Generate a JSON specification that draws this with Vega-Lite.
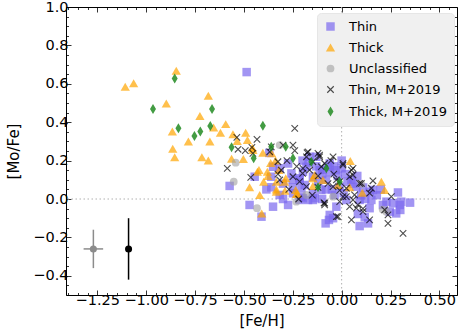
{
  "$schema": "https://vega.github.io/schema/vega-lite/v6.json",
  "autosize": {"type": "none"},
  "padding": {"left": 66, "top": 7, "right": 3, "bottom": 40},
  "width": 391,
  "height": 288,
  "config": {
    "font": "DejaVu Sans",
    "view": {"stroke": "#000000", "strokeWidth": 1},
    "axis": {"grid": false, "domain": false, "labelFont": "DejaVu Sans", "labelFontSize": 14.5, "labelColor": "#000000", "titleFont": "DejaVu Sans", "titleFontSize": 15, "titleFontWeight": "normal", "titleColor": "#000000", "tickColor": "#000000", "tickWidth": 0.8, "labelOverlap": false, "labelFlush": false},
    "legend": {"labelFont": "DejaVu Sans", "labelFontSize": 13, "labelColor": "#000000"}
  },
  "datasets": {
    "pts": [
      {"fe": -0.486, "mo": 0.661, "cls": "Thin"},
      {"fe": -0.573, "mo": 0.068, "cls": "Thin"},
      {"fe": -0.351, "mo": 0.168, "cls": "Thin"},
      {"fe": -0.36, "mo": 0.116, "cls": "Thin"},
      {"fe": -0.317, "mo": 0.16, "cls": "Thin"},
      {"fe": -0.385, "mo": 0.05, "cls": "Thin"},
      {"fe": -0.36, "mo": 0.061, "cls": "Thin"},
      {"fe": -0.317, "mo": 0.021, "cls": "Thin"},
      {"fe": -0.471, "mo": -0.031, "cls": "Thin"},
      {"fe": -0.351, "mo": -0.04, "cls": "Thin"},
      {"fe": -0.41, "mo": -0.092, "cls": "Thin"},
      {"fe": -0.274, "mo": -0.031, "cls": "Thin"},
      {"fe": -0.215, "mo": -0.005, "cls": "Thin"},
      {"fe": -0.172, "mo": -0.005, "cls": "Thin"},
      {"fe": -0.147, "mo": 0.03, "cls": "Thin"},
      {"fe": -0.082, "mo": -0.127, "cls": "Thin"},
      {"fe": -0.065, "mo": -0.109, "cls": "Thin"},
      {"fe": -0.164, "mo": 0.22, "cls": "Thin"},
      {"fe": -0.129, "mo": 0.22, "cls": "Thin"},
      {"fe": -0.18, "mo": 0.168, "cls": "Thin"},
      {"fe": -0.215, "mo": 0.099, "cls": "Thin"},
      {"fe": -0.147, "mo": 0.116, "cls": "Thin"},
      {"fe": -0.096, "mo": 0.151, "cls": "Thin"},
      {"fe": -0.104, "mo": 0.047, "cls": "Thin"},
      {"fe": -0.206, "mo": 0.056, "cls": "Thin"},
      {"fe": -0.249, "mo": 0.03, "cls": "Thin"},
      {"fe": -0.445, "mo": 0.116, "cls": "Thin"},
      {"fe": -0.274, "mo": 0.185, "cls": "Thin"},
      {"fe": -0.257, "mo": 0.133, "cls": "Thin"},
      {"fe": -0.198, "mo": 0.142, "cls": "Thin"},
      {"fe": -0.189, "mo": 0.073, "cls": "Thin"},
      {"fe": -0.07, "mo": 0.168, "cls": "Thin"},
      {"fe": -0.044, "mo": -0.1, "cls": "Thin"},
      {"fe": -0.206, "mo": 0.012, "cls": "Thin"},
      {"fe": -0.138, "mo": 0.004, "cls": "Thin"},
      {"fe": -0.036, "mo": 0.021, "cls": "Thin"},
      {"fe": -0.04, "mo": 0.17, "cls": "Thin"},
      {"fe": -0.061, "mo": -0.083, "cls": "Thin"},
      {"fe": -0.027, "mo": -0.04, "cls": "Thin"},
      {"fe": 0.083, "mo": -0.078, "cls": "Thin"},
      {"fe": 0.118, "mo": -0.095, "cls": "Thin"},
      {"fe": 0.143, "mo": -0.048, "cls": "Thin"},
      {"fe": 0.288, "mo": 0.034, "cls": "Thin"},
      {"fe": 0.3, "mo": -0.057, "cls": "Thin"},
      {"fe": 0.35, "mo": -0.019, "cls": "Thin"},
      {"fe": 0.229, "mo": -0.014, "cls": "Thin"},
      {"fe": 0.263, "mo": -0.022, "cls": "Thin"},
      {"fe": 0.16, "mo": 0.047, "cls": "Thin"},
      {"fe": 0.211, "mo": -0.031, "cls": "Thin"},
      {"fe": 0.246, "mo": -0.066, "cls": "Thin"},
      {"fe": 0.305, "mo": -0.014, "cls": "Thin"},
      {"fe": 0.092, "mo": -0.141, "cls": "Thin"},
      {"fe": 0.135, "mo": -0.127, "cls": "Thin"},
      {"fe": 0.279, "mo": -0.075, "cls": "Thin"},
      {"fe": 0.297, "mo": -0.031, "cls": "Thin"},
      {"fe": -0.198, "mo": 0.004, "cls": "Thin"},
      {"fe": -0.147, "mo": -0.005, "cls": "Thin"},
      {"fe": 0.024, "mo": -0.005, "cls": "Thin"},
      {"fe": 0.092, "mo": -0.005, "cls": "Thin"},
      {"fe": 0.152, "mo": -0.005, "cls": "Thin"},
      {"fe": -0.113, "mo": 0.151, "cls": "Thin"},
      {"fe": -0.061, "mo": 0.185, "cls": "Thin"},
      {"fe": -0.01, "mo": 0.064, "cls": "Thin"},
      {"fe": 0.075, "mo": 0.064, "cls": "Thin"},
      {"fe": 0.143, "mo": 0.038, "cls": "Thin"},
      {"fe": -0.215, "mo": 0.108, "cls": "Thin"},
      {"fe": -0.37, "mo": 0.24, "cls": "Thin"},
      {"fe": -0.3, "mo": 0.08, "cls": "Thin"},
      {"fe": -0.25, "mo": 0.1, "cls": "Thin"},
      {"fe": -0.12, "mo": 0.09, "cls": "Thin"},
      {"fe": -0.08, "mo": 0.1, "cls": "Thin"},
      {"fe": -0.05, "mo": 0.05, "cls": "Thin"},
      {"fe": -0.02, "mo": 0.12, "cls": "Thin"},
      {"fe": 0.01, "mo": 0.03, "cls": "Thin"},
      {"fe": 0.05, "mo": 0.1, "cls": "Thin"},
      {"fe": 0.1, "mo": 0.02, "cls": "Thin"},
      {"fe": -0.1, "mo": 0.0, "cls": "Thin"},
      {"fe": -0.3, "mo": 0.0, "cls": "Thin"},
      {"fe": -0.17, "mo": 0.19, "cls": "Thin"},
      {"fe": -0.13, "mo": 0.17, "cls": "Thin"},
      {"fe": -0.1, "mo": 0.13, "cls": "Thin"},
      {"fe": -0.06, "mo": 0.14, "cls": "Thin"},
      {"fe": -0.03, "mo": 0.15, "cls": "Thin"},
      {"fe": 0.0, "mo": 0.16, "cls": "Thin"},
      {"fe": 0.02, "mo": 0.13, "cls": "Thin"},
      {"fe": 0.03, "mo": 0.09, "cls": "Thin"},
      {"fe": 0.06, "mo": 0.08, "cls": "Thin"},
      {"fe": 0.08, "mo": 0.12, "cls": "Thin"},
      {"fe": 0.11, "mo": 0.06, "cls": "Thin"},
      {"fe": -0.2, "mo": 0.2, "cls": "Thin"},
      {"fe": 0.0, "mo": 0.2, "cls": "Thin"},
      {"fe": -0.08, "mo": 0.05, "cls": "Thin"},
      {"fe": -0.25, "mo": 0.06, "cls": "Thin"},
      {"fe": 0.12, "mo": 0.0, "cls": "Thin"},
      {"fe": 0.18, "mo": 0.02, "cls": "Thin"},
      {"fe": 0.2, "mo": 0.05, "cls": "Thin"},
      {"fe": -1.107, "mo": 0.585, "cls": "Thick"},
      {"fe": -1.064, "mo": 0.603, "cls": "Thick"},
      {"fe": -0.846, "mo": 0.668, "cls": "Thick"},
      {"fe": -0.897, "mo": 0.498, "cls": "Thick"},
      {"fe": -0.682, "mo": 0.538, "cls": "Thick"},
      {"fe": -0.725, "mo": 0.432, "cls": "Thick"},
      {"fe": -0.866, "mo": 0.351, "cls": "Thick"},
      {"fe": -0.864, "mo": 0.262, "cls": "Thick"},
      {"fe": -0.854, "mo": 0.217, "cls": "Thick"},
      {"fe": -0.784, "mo": 0.299, "cls": "Thick"},
      {"fe": -0.715, "mo": 0.217, "cls": "Thick"},
      {"fe": -0.682, "mo": 0.2, "cls": "Thick"},
      {"fe": -0.674, "mo": 0.299, "cls": "Thick"},
      {"fe": -0.655, "mo": 0.373, "cls": "Thick"},
      {"fe": -0.62, "mo": 0.345, "cls": "Thick"},
      {"fe": -0.593, "mo": 0.39, "cls": "Thick"},
      {"fe": -0.556, "mo": 0.337, "cls": "Thick"},
      {"fe": -0.491, "mo": 0.345, "cls": "Thick"},
      {"fe": -0.482, "mo": 0.307, "cls": "Thick"},
      {"fe": -0.534, "mo": 0.302, "cls": "Thick"},
      {"fe": -0.563, "mo": 0.21, "cls": "Thick"},
      {"fe": -0.503, "mo": 0.208, "cls": "Thick"},
      {"fe": -0.457, "mo": 0.267, "cls": "Thick"},
      {"fe": -0.471, "mo": 0.061, "cls": "Thick"},
      {"fe": -0.431, "mo": 0.142, "cls": "Thick"},
      {"fe": -0.454, "mo": 0.255, "cls": "Thick"},
      {"fe": -0.403, "mo": 0.241, "cls": "Thick"},
      {"fe": -0.423, "mo": 0.151, "cls": "Thick"},
      {"fe": -0.377, "mo": 0.12, "cls": "Thick"},
      {"fe": -0.338, "mo": 0.2, "cls": "Thick"},
      {"fe": -0.321, "mo": 0.151, "cls": "Thick"},
      {"fe": -0.399, "mo": 0.09, "cls": "Thick"},
      {"fe": -0.419, "mo": 0.021, "cls": "Thick"},
      {"fe": -0.334, "mo": 0.05, "cls": "Thick"},
      {"fe": -0.29, "mo": 0.043, "cls": "Thick"},
      {"fe": -0.286, "mo": 0.108, "cls": "Thick"},
      {"fe": -0.235, "mo": 0.047, "cls": "Thick"},
      {"fe": -0.409, "mo": -0.075, "cls": "Thick"},
      {"fe": -0.232, "mo": 0.026, "cls": "Thick"},
      {"fe": -0.138, "mo": 0.125, "cls": "Thick"},
      {"fe": -0.147, "mo": 0.068, "cls": "Thick"},
      {"fe": -0.096, "mo": 0.099, "cls": "Thick"},
      {"fe": -0.358, "mo": 0.238, "cls": "Thick"},
      {"fe": -0.38, "mo": 0.142, "cls": "Thick"},
      {"fe": -0.334, "mo": 0.09, "cls": "Thick"},
      {"fe": -0.292, "mo": 0.09, "cls": "Thick"},
      {"fe": -0.334, "mo": 0.038, "cls": "Thick"},
      {"fe": -0.227, "mo": 0.029, "cls": "Thick"},
      {"fe": -0.147, "mo": 0.108, "cls": "Thick"},
      {"fe": -0.363, "mo": 0.187, "cls": "Thick"},
      {"fe": 0.044, "mo": 0.198, "cls": "Thick"},
      {"fe": 0.203, "mo": 0.09, "cls": "Thick"},
      {"fe": 0.22, "mo": 0.047, "cls": "Thick"},
      {"fe": 0.041, "mo": 0.061, "cls": "Thick"},
      {"fe": 0.106, "mo": 0.033, "cls": "Thick"},
      {"fe": -0.019, "mo": 0.073, "cls": "Thick"},
      {"fe": -0.542, "mo": 0.189, "cls": "Unclassified"},
      {"fe": -0.552, "mo": 0.09, "cls": "Unclassified"},
      {"fe": -0.317, "mo": 0.281, "cls": "Unclassified"},
      {"fe": -0.433, "mo": -0.048, "cls": "Unclassified"},
      {"fe": -0.232, "mo": -0.014, "cls": "Unclassified"},
      {"fe": 0.229, "mo": -0.066, "cls": "Unclassified"},
      {"fe": 0.21, "mo": -0.055, "cls": "Unclassified"},
      {"fe": 0.101, "mo": 0.078, "cls": "Unclassified"},
      {"fe": -0.044, "mo": 0.012, "cls": "Unclassified"},
      {"fe": -0.18, "mo": 0.021, "cls": "Unclassified"},
      {"fe": -0.536, "mo": 0.321, "cls": "Thin, M+2019"},
      {"fe": -0.585, "mo": 0.16, "cls": "Thin, M+2019"},
      {"fe": -0.53, "mo": 0.259, "cls": "Thin, M+2019"},
      {"fe": -0.493, "mo": 0.252, "cls": "Thin, M+2019"},
      {"fe": -0.459, "mo": 0.269, "cls": "Thin, M+2019"},
      {"fe": -0.433, "mo": 0.311, "cls": "Thin, M+2019"},
      {"fe": -0.465, "mo": 0.113, "cls": "Thin, M+2019"},
      {"fe": -0.24, "mo": 0.368, "cls": "Thin, M+2019"},
      {"fe": -0.326, "mo": 0.194, "cls": "Thin, M+2019"},
      {"fe": -0.368, "mo": 0.246, "cls": "Thin, M+2019"},
      {"fe": -0.3, "mo": 0.281, "cls": "Thin, M+2019"},
      {"fe": -0.249, "mo": 0.281, "cls": "Thin, M+2019"},
      {"fe": -0.24, "mo": 0.252, "cls": "Thin, M+2019"},
      {"fe": -0.177, "mo": 0.241, "cls": "Thin, M+2019"},
      {"fe": -0.121, "mo": 0.238, "cls": "Thin, M+2019"},
      {"fe": -0.309, "mo": 0.151, "cls": "Thin, M+2019"},
      {"fe": -0.317, "mo": 0.099, "cls": "Thin, M+2019"},
      {"fe": -0.215, "mo": 0.09, "cls": "Thin, M+2019"},
      {"fe": -0.18, "mo": 0.064, "cls": "Thin, M+2019"},
      {"fe": -0.121, "mo": 0.061, "cls": "Thin, M+2019"},
      {"fe": -0.087, "mo": -0.031, "cls": "Thin, M+2019"},
      {"fe": -0.147, "mo": 0.194, "cls": "Thin, M+2019"},
      {"fe": -0.104, "mo": 0.168, "cls": "Thin, M+2019"},
      {"fe": -0.198, "mo": 0.16, "cls": "Thin, M+2019"},
      {"fe": -0.454, "mo": 0.238, "cls": "Thin, M+2019"},
      {"fe": -0.36, "mo": 0.272, "cls": "Thin, M+2019"},
      {"fe": -0.326, "mo": 0.13, "cls": "Thin, M+2019"},
      {"fe": -0.249, "mo": 0.116, "cls": "Thin, M+2019"},
      {"fe": -0.2, "mo": 0.133, "cls": "Thin, M+2019"},
      {"fe": -0.164, "mo": 0.151, "cls": "Thin, M+2019"},
      {"fe": -0.18, "mo": 0.22, "cls": "Thin, M+2019"},
      {"fe": -0.113, "mo": 0.22, "cls": "Thin, M+2019"},
      {"fe": -0.087, "mo": 0.185, "cls": "Thin, M+2019"},
      {"fe": -0.055, "mo": 0.2, "cls": "Thin, M+2019"},
      {"fe": -0.019, "mo": -0.092, "cls": "Thin, M+2019"},
      {"fe": -0.01, "mo": 0.045, "cls": "Thin, M+2019"},
      {"fe": -0.09, "mo": -0.02, "cls": "Thin, M+2019"},
      {"fe": -0.044, "mo": 0.22, "cls": "Thin, M+2019"},
      {"fe": 0.007, "mo": 0.177, "cls": "Thin, M+2019"},
      {"fe": 0.058, "mo": 0.16, "cls": "Thin, M+2019"},
      {"fe": 0.058, "mo": 0.125, "cls": "Thin, M+2019"},
      {"fe": -0.04, "mo": 0.13, "cls": "Thin, M+2019"},
      {"fe": -0.01, "mo": 0.09, "cls": "Thin, M+2019"},
      {"fe": 0.101, "mo": 0.081, "cls": "Thin, M+2019"},
      {"fe": 0.16, "mo": 0.095, "cls": "Thin, M+2019"},
      {"fe": 0.143, "mo": 0.03, "cls": "Thin, M+2019"},
      {"fe": 0.066, "mo": 0.021, "cls": "Thin, M+2019"},
      {"fe": 0.024, "mo": 0.012, "cls": "Thin, M+2019"},
      {"fe": -0.01, "mo": -0.014, "cls": "Thin, M+2019"},
      {"fe": 0.041, "mo": -0.04, "cls": "Thin, M+2019"},
      {"fe": 0.075, "mo": -0.048, "cls": "Thin, M+2019"},
      {"fe": 0.109, "mo": -0.066, "cls": "Thin, M+2019"},
      {"fe": 0.05, "mo": -0.109, "cls": "Thin, M+2019"},
      {"fe": 0.143, "mo": -0.109, "cls": "Thin, M+2019"},
      {"fe": 0.22, "mo": -0.057, "cls": "Thin, M+2019"},
      {"fe": 0.237, "mo": -0.083, "cls": "Thin, M+2019"},
      {"fe": 0.314, "mo": -0.179, "cls": "Thin, M+2019"},
      {"fe": 0.254, "mo": 0.012, "cls": "Thin, M+2019"},
      {"fe": -0.044, "mo": 0.064, "cls": "Thin, M+2019"},
      {"fe": 0.024, "mo": 0.056, "cls": "Thin, M+2019"},
      {"fe": -0.172, "mo": 0.246, "cls": "Thin, M+2019"},
      {"fe": -0.113, "mo": 0.229, "cls": "Thin, M+2019"},
      {"fe": 0.007, "mo": 0.185, "cls": "Thin, M+2019"},
      {"fe": 0.152, "mo": 0.056, "cls": "Thin, M+2019"},
      {"fe": 0.237, "mo": -0.127, "cls": "Thin, M+2019"},
      {"fe": -0.027, "mo": -0.092, "cls": "Thin, M+2019"},
      {"fe": -0.087, "mo": -0.022, "cls": "Thin, M+2019"},
      {"fe": 0.05, "mo": 0.151, "cls": "Thin, M+2019"},
      {"fe": 0.041, "mo": 0.116, "cls": "Thin, M+2019"},
      {"fe": -0.027, "mo": 0.099, "cls": "Thin, M+2019"},
      {"fe": 0.092, "mo": 0.081, "cls": "Thin, M+2019"},
      {"fe": 0.109, "mo": -0.05, "cls": "Thin, M+2019"},
      {"fe": 0.083, "mo": -0.03, "cls": "Thin, M+2019"},
      {"fe": 0.007, "mo": 0.012, "cls": "Thin, M+2019"},
      {"fe": 0.058, "mo": -0.005, "cls": "Thin, M+2019"},
      {"fe": -0.27, "mo": 0.05, "cls": "Thin, M+2019"},
      {"fe": -0.22, "mo": 0.0, "cls": "Thin, M+2019"},
      {"fe": -0.15, "mo": 0.02, "cls": "Thin, M+2019"},
      {"fe": -0.12, "mo": 0.12, "cls": "Thin, M+2019"},
      {"fe": -0.07, "mo": 0.08, "cls": "Thin, M+2019"},
      {"fe": -0.23, "mo": 0.17, "cls": "Thin, M+2019"},
      {"fe": -0.28, "mo": 0.2, "cls": "Thin, M+2019"},
      {"fe": -0.965, "mo": 0.469, "cls": "Thick, M+2019"},
      {"fe": -0.854, "mo": 0.628, "cls": "Thick, M+2019"},
      {"fe": -0.835, "mo": 0.368, "cls": "Thick, M+2019"},
      {"fe": -0.753, "mo": 0.328, "cls": "Thick, M+2019"},
      {"fe": -0.723, "mo": 0.351, "cls": "Thick, M+2019"},
      {"fe": -0.672, "mo": 0.38, "cls": "Thick, M+2019"},
      {"fe": -0.663, "mo": 0.469, "cls": "Thick, M+2019"},
      {"fe": -0.563, "mo": 0.269, "cls": "Thick, M+2019"},
      {"fe": -0.45, "mo": 0.212, "cls": "Thick, M+2019"},
      {"fe": -0.403, "mo": 0.382, "cls": "Thick, M+2019"},
      {"fe": -0.36, "mo": 0.272, "cls": "Thick, M+2019"},
      {"fe": -0.286, "mo": 0.272, "cls": "Thick, M+2019"},
      {"fe": -0.249, "mo": 0.212, "cls": "Thick, M+2019"},
      {"fe": -0.155, "mo": 0.194, "cls": "Thick, M+2019"},
      {"fe": -0.078, "mo": 0.16, "cls": "Thick, M+2019"},
      {"fe": -0.121, "mo": 0.061, "cls": "Thick, M+2019"},
      {"fe": -0.01, "mo": 0.09, "cls": "Thick, M+2019"}
    ],
    "err": [
      {"fe": -1.27, "mo": -0.26, "felo": -1.32, "fehi": -1.22, "molo": -0.36, "mohi": -0.16, "c": "gray"},
      {"fe": -1.09, "mo": -0.26, "felo": -1.09, "fehi": -1.09, "molo": -0.42, "mohi": -0.1, "c": "black"}
    ],
    "zero": [{"v": 0}]
  },
  "layer": [
    {
      "data": {"name": "zero"},
      "mark": {"type": "rule", "color": "#b0b0b0", "strokeWidth": 1, "strokeDash": [1.5, 2.5]},
      "encoding": {
        "x": {"field": "v", "type": "quantitative", "scale": {"domain": [-1.41, 0.59], "nice": false, "zero": false},
          "axis": {"orient": "top", "title": null, "labels": false, "values": [-1.4,-1.35,-1.3,-1.25,-1.2,-1.15,-1.1,-1.05,-1.0,-0.95,-0.9,-0.85,-0.8,-0.75,-0.7,-0.65,-0.6,-0.55,-0.5,-0.45,-0.4,-0.35,-0.3,-0.25,-0.2,-0.15,-0.1,-0.05,0,0.05,0.1,0.15,0.2,0.25,0.3,0.35,0.4,0.45,0.5,0.55],
            "tickSize": {"condition": {"test": "abs(datum.value*4 - round(datum.value*4)) < 0.001", "value": -5}, "value": -2.5}}}
      }
    },
    {
      "data": {"name": "zero"},
      "mark": {"type": "rule", "color": "#b0b0b0", "strokeWidth": 1, "strokeDash": [1.5, 2.5]},
      "encoding": {
        "y": {"field": "v", "type": "quantitative", "scale": {"domain": [-0.5, 1.0], "nice": false, "zero": false},
          "axis": {"orient": "right", "title": null, "labels": false, "values": [-0.5,-0.45,-0.4,-0.35,-0.3,-0.25,-0.2,-0.15,-0.1,-0.05,0,0.05,0.1,0.15,0.2,0.25,0.3,0.35,0.4,0.45,0.5,0.55,0.6,0.65,0.7,0.75,0.8,0.85,0.9,0.95,1.0],
            "tickSize": {"condition": {"test": "abs(datum.value*5 - round(datum.value*5)) < 0.001", "value": -5}, "value": -2.5}}}
      }
    },
    {
      "data": {"name": "err"},
      "mark": {"type": "rule", "strokeWidth": 1.5},
      "encoding": {
        "x": {"field": "felo", "type": "quantitative", "scale": {"domain": [-1.41, 0.59], "nice": false, "zero": false}, "axis": null},
        "x2": {"field": "fehi"},
        "y": {"field": "mo", "type": "quantitative", "scale": {"domain": [-0.5, 1.0], "nice": false, "zero": false}, "axis": null},
        "color": {"field": "c", "type": "nominal", "scale": {"domain": ["gray", "black"], "range": ["#8c8c8c", "#000000"]}, "legend": null}
      }
    },
    {
      "data": {"name": "err"},
      "mark": {"type": "rule", "strokeWidth": 1.5},
      "encoding": {
        "x": {"field": "fe", "type": "quantitative", "scale": {"domain": [-1.41, 0.59], "nice": false, "zero": false}, "axis": null},
        "y": {"field": "molo", "type": "quantitative", "scale": {"domain": [-0.5, 1.0], "nice": false, "zero": false}, "axis": null},
        "y2": {"field": "mohi"},
        "color": {"field": "c", "type": "nominal", "scale": {"domain": ["gray", "black"], "range": ["#8c8c8c", "#000000"]}, "legend": null}
      }
    },
    {
      "data": {"name": "err"},
      "mark": {"type": "circle", "size": 50, "opacity": 1},
      "encoding": {
        "x": {"field": "fe", "type": "quantitative", "scale": {"domain": [-1.41, 0.59], "nice": false, "zero": false}, "axis": null},
        "y": {"field": "mo", "type": "quantitative", "scale": {"domain": [-0.5, 1.0], "nice": false, "zero": false}, "axis": null},
        "color": {"field": "c", "type": "nominal", "scale": {"domain": ["gray", "black"], "range": ["#8c8c8c", "#000000"]}, "legend": null}
      }
    },
    {
      "data": {"name": "pts"},
      "mark": {"type": "point", "filled": true, "opacity": 1, "strokeWidth": 1.1},
      "encoding": {
        "x": {"field": "fe", "type": "quantitative", "title": "[Fe/H]", "scale": {"domain": [-1.41, 0.59], "nice": false, "zero": false},
          "axis": {"orient": "bottom", "values": [-1.4,-1.35,-1.3,-1.25,-1.2,-1.15,-1.1,-1.05,-1.0,-0.95,-0.9,-0.85,-0.8,-0.75,-0.7,-0.65,-0.6,-0.55,-0.5,-0.45,-0.4,-0.35,-0.3,-0.25,-0.2,-0.15,-0.1,-0.05,0,0.05,0.1,0.15,0.2,0.25,0.3,0.35,0.4,0.45,0.5,0.55],
            "labelExpr": "abs(datum.value*4 - round(datum.value*4)) < 0.001 ? replace(format(datum.value, '.2f'), '-', '\u2212') : ''",
            "tickSize": {"condition": {"test": "abs(datum.value*4 - round(datum.value*4)) < 0.001", "value": -5}, "value": -2.5},
            "labelPadding": 3, "titlePadding": 4}},
        "y": {"field": "mo", "type": "quantitative", "title": "[Mo/Fe]", "scale": {"domain": [-0.5, 1.0], "nice": false, "zero": false},
          "axis": {"orient": "left", "values": [-0.5,-0.45,-0.4,-0.35,-0.3,-0.25,-0.2,-0.15,-0.1,-0.05,0,0.05,0.1,0.15,0.2,0.25,0.3,0.35,0.4,0.45,0.5,0.55,0.6,0.65,0.7,0.75,0.8,0.85,0.9,0.95,1.0],
            "labelExpr": "abs(datum.value*5 - round(datum.value*5)) < 0.001 && datum.value > -0.45 ? replace(format(datum.value, '.1f'), '-', '\u2212') : ''",
            "tickSize": {"condition": {"test": "abs(datum.value*5 - round(datum.value*5)) < 0.001", "value": -5}, "value": -2.5},
            "labelPadding": 3, "titlePadding": 11}},
        "shape": {"field": "cls", "type": "nominal", "scale": {"domain": ["Thin", "Thick", "Unclassified", "Thin, M+2019", "Thick, M+2019"], "range": ["square", "triangle-up", "circle", "M-1,-1L1,1M-1,1L1,-1", "M0,-1L0.6,0L0,1L-0.6,0Z"]},
          "legend": {"title": null, "orient": "none", "legendX": 251, "legendY": 6, "fillColor": "#f0f0f0", "strokeColor": "#e6e6e6", "cornerRadius": 4, "padding": 7, "rowPadding": 7, "symbolSize": 64, "labelOffset": 12, "symbolStrokeWidth": 1.1}},
        "fill": {"field": "cls", "type": "nominal", "scale": {"domain": ["Thin", "Thick", "Unclassified", "Thin, M+2019", "Thick, M+2019"], "range": ["rgba(123,104,238,0.7)", "rgba(255,165,0,0.7)", "rgba(160,160,160,0.6)", "rgba(0,0,0,0)", "rgba(34,139,34,0.85)"]},
          "legend": {"title": null, "orient": "none", "legendX": 251, "legendY": 6, "fillColor": "#f0f0f0", "strokeColor": "#e6e6e6", "cornerRadius": 4, "padding": 7, "rowPadding": 7, "symbolSize": 64, "labelOffset": 12, "symbolStrokeWidth": 1.1}},
        "stroke": {"field": "cls", "type": "nominal", "scale": {"domain": ["Thin", "Thick", "Unclassified", "Thin, M+2019", "Thick, M+2019"], "range": ["rgba(0,0,0,0)", "rgba(0,0,0,0)", "rgba(0,0,0,0)", "rgba(0,0,0,0.7)", "rgba(0,0,0,0)"]},
          "legend": {"title": null, "orient": "none", "legendX": 251, "legendY": 6, "fillColor": "#f0f0f0", "strokeColor": "#e6e6e6", "cornerRadius": 4, "padding": 7, "rowPadding": 7, "symbolSize": 64, "labelOffset": 12, "symbolStrokeWidth": 1.1}},
        "size": {"field": "cls", "type": "nominal", "scale": {"type": "ordinal", "domain": ["Thin", "Thick", "Unclassified", "Thin, M+2019", "Thick, M+2019"], "range": [72, 85, 60, 42, 100]},
          "legend": {"title": null, "orient": "none", "legendX": 251, "legendY": 6, "fillColor": "#f0f0f0", "strokeColor": "#e6e6e6", "cornerRadius": 4, "padding": 7, "rowPadding": 7, "symbolSize": 64, "labelOffset": 12, "symbolStrokeWidth": 1.1}}
      }
    }
  ],
  "resolve": {"axis": {"x": "independent", "y": "independent"}}
}
